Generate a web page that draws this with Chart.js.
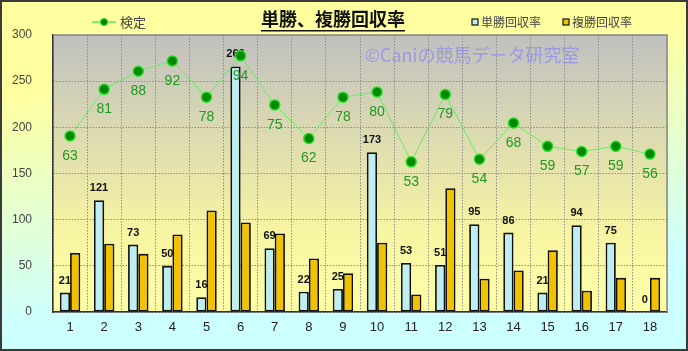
<!DOCTYPE html>
<html><head><meta charset="utf-8">
<script src="https://cdn.jsdelivr.net/npm/chart.js@4"></script>
<style>html,body{margin:0;padding:0;background:#fff}</style>
</head><body>
<canvas id="c" width="688" height="351" style="display:block;width:688px;height:351px"></canvas>
<script>
const categories = ['1','2','3','4','5','6','7','8','9','10','11','12','13','14','15','16','17','18'];
const tanshoValues = [21,121,73,50,16,266,69,22,25,173,53,51,95,86,21,94,75,0];
const fukushoValues = [64,74,63,84,110,97,85,58,42,75,19,134,36,45,67,23,37,37];
const kenteiValues = [63,81,88,92,78,94,75,62,78,80,53,79,54,68,59,57,59,56];
const yTicks = [0,50,100,150,200,250,300];
const titleText = '単勝、複勝回収率';
const seriesNames = ['検定','単勝回収率','複勝回収率'];
const watermarkText = '©Caniの競馬データ研究室';

const JP = '"Noto Sans CJK JP", sans-serif';
const LAT = '"Liberation Sans", Arial, sans-serif';
const BLUE = '#BDEEF3', GOLD = '#F2C200';

const deco = {
  id: 'deco',
  beforeDraw(chart) {
    const {ctx, width, height, chartArea: a} = chart;
    ctx.save();
    let g = ctx.createLinearGradient(0, 96, 24, 327);
    g.addColorStop(0, '#FFFFA0'); g.addColorStop(1, '#CCFFFF');
    ctx.fillStyle = g; ctx.fillRect(0, 0, width, height);
    g = ctx.createLinearGradient(0, a.top, 0, a.bottom);
    g.addColorStop(0, '#C0C0C0'); g.addColorStop(0.72, '#F8F5A2'); g.addColorStop(1, '#FFFFA8');
    ctx.fillStyle = g; ctx.fillRect(a.left, a.top, a.right - a.left, a.bottom - a.top);
    ctx.restore();
  },
  beforeDatasetsDraw(chart) {
    const {ctx, chartArea: a} = chart;
    ctx.save();
    ctx.strokeStyle = '#8A8A8A'; ctx.lineWidth = 1.5;
    ctx.beginPath(); ctx.moveTo(a.left, a.top); ctx.lineTo(a.right, a.top); ctx.lineTo(a.right, a.bottom); ctx.stroke();
    ctx.font = '18px ' + JP; ctx.fillStyle = 'rgba(125,125,255,0.6)';
    ctx.textBaseline = 'middle'; ctx.textAlign = 'left';
    ctx.fillText(watermarkText, 365, 55);
    ctx.restore();
  },
  afterDatasetDraw(chart, args) {
    const {ctx} = chart;
    const meta = args.meta;
    ctx.save();
    if (args.index === 1) {
      ctx.font = 'bold 11px ' + LAT; ctx.fillStyle = '#111';
      ctx.textAlign = 'center'; ctx.textBaseline = 'middle';
      meta.data.forEach((el, i) => ctx.fillText(String(tanshoValues[i]), el.x, el.y - 12));
    }
    if (args.index === 0) {
      ctx.font = '14px ' + LAT; ctx.fillStyle = '#229922';
      ctx.textAlign = 'center'; ctx.textBaseline = 'middle';
      meta.data.forEach((el, i) => ctx.fillText(String(kenteiValues[i]), el.x, el.y + 20));
    }
    ctx.restore();
  },
  afterDraw(chart) {
    const {ctx, width, height} = chart;
    ctx.save();
    ctx.font = 'bold 18px ' + JP; ctx.fillStyle = '#111';
    ctx.textAlign = 'center'; ctx.textBaseline = 'middle';
    ctx.fillText(titleText, 333, 19);
    const tw = ctx.measureText(titleText).width;
    ctx.fillRect(333 - tw / 2, 30, tw, 1.5);
    ctx.strokeStyle = '#55EE55'; ctx.lineWidth = 1.5;
    ctx.beginPath(); ctx.moveTo(92, 22); ctx.lineTo(116, 22); ctx.stroke();
    ctx.beginPath(); ctx.arc(104, 22, 3.5, 0, Math.PI * 2);
    ctx.fillStyle = '#008800'; ctx.fill(); ctx.strokeStyle = '#22DD22'; ctx.lineWidth = 1; ctx.stroke();
    ctx.font = '13px ' + JP; ctx.fillStyle = '#444'; ctx.textAlign = 'left'; ctx.textBaseline = 'middle';
    ctx.fillText(seriesNames[0], 120, 22);
    [[475, BLUE, seriesNames[1]], [566, GOLD, seriesNames[2]]].forEach(([x, c, t]) => {
      ctx.fillStyle = c; ctx.fillRect(x - 3, 19, 6, 6);
      ctx.strokeStyle = '#111'; ctx.lineWidth = 1.2; ctx.strokeRect(x - 3, 19, 6, 6);
      ctx.font = '12px ' + JP; ctx.fillStyle = '#444';
      ctx.fillText(t, x + 6, 22);
    });
    ctx.strokeStyle = '#3A3A3A'; ctx.lineWidth = 2;
    ctx.strokeRect(1, 1, width - 2, height - 2);
    ctx.restore();
  }
};

new Chart(document.getElementById('c'), {
  data: {
    labels: categories,
    datasets: [
      { type: 'line', label: seriesNames[0], data: kenteiValues, yAxisID: 'y2', order: 0,
        borderColor: '#66EE66', borderWidth: 1, pointRadius: 5, pointBackgroundColor: '#008800',
        pointBorderColor: '#22DD22', pointBorderWidth: 1.5, tension: 0 },
      { type: 'bar', label: seriesNames[1], data: tanshoValues, yAxisID: 'y', order: 1,
        backgroundColor: BLUE, borderColor: '#111', borderWidth: 1.8, borderSkipped: false,
        barPercentage: 1, categoryPercentage: 0.6 },
      { type: 'bar', label: seriesNames[2], data: fukushoValues, yAxisID: 'y', order: 1,
        backgroundColor: GOLD, borderColor: '#111', borderWidth: 1.8, borderSkipped: false,
        barPercentage: 1, categoryPercentage: 0.6 }
    ]
  },
  options: {
    responsive: false, animation: false, devicePixelRatio: 1,
    layout: { padding: { left: 0, right: 21, top: 35, bottom: 0 } },
    plugins: { legend: { display: false }, tooltip: { enabled: false }, title: { display: false } },
    scales: {
      x: {
        grid: { color: '#8E8E8E', lineWidth: 1, drawTicks: false, offset: true },
        border: { display: true, color: '#333', width: 1.5, dash: [1.5, 1.5] },
        ticks: { color: '#222', font: { family: LAT, size: 13 }, padding: 8, maxRotation: 0 },
        afterFit(s) { s.height = 39; }
      },
      y: {
        min: yTicks[0], max: yTicks[yTicks.length - 1],
        afterBuildTicks(s) { s.ticks = yTicks.map(v => ({ value: v })); },
        grid: { color: '#8E8E8E', lineWidth: 1, drawTicks: false },
        border: { display: true, color: '#333', width: 1.5, dash: [1.5, 1.5] },
        ticks: { color: '#444', font: { family: LAT, size: 12 }, padding: 21 },
        afterFit(s) { s.width = 53; }
      },
      y2: { display: false, min: -5, max: 102 }
    }
  },
  plugins: [deco]
});
</script>
</body></html>
